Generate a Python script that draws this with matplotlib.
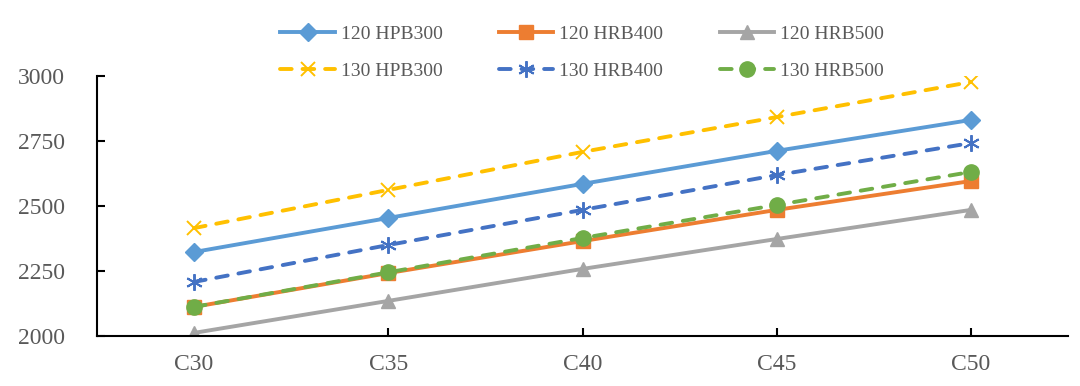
import matplotlib
matplotlib.use("Agg")
import matplotlib.pyplot as plt

categories = ["C30", "C35", "C40", "C45", "C50"]
s120_hpb300 = [2323, 2454, 2585, 2712, 2831]
s120_hrb400 = [2112, 2242, 2365, 2485, 2596]
s120_hrb500 = [2012, 2135, 2258, 2373, 2485]
s130_hpb300 = [2415, 2562, 2708, 2842, 2977]
s130_hrb400 = [2208, 2350, 2485, 2619, 2742]
s130_hrb500 = [2112, 2245, 2377, 2504, 2631]
yticks = [2000, 2250, 2500, 2750, 3000]

plt.rcParams['font.family'] = ['Liberation Serif', 'DejaVu Serif']

fig = plt.figure(figsize=(10.8, 3.86), dpi=100)
ax = fig.add_axes([97/1080, 1-336/386, (1068-97)/1080, (336-76)/386])

x = list(range(len(categories)))
lw = 2.8
dash = (0, (3.0, 2.8))

ax.plot(x, s120_hpb300, color="#5B9BD5", lw=lw, marker="D", ms=9, label="120 HPB300")
ax.plot(x, s120_hrb400, color="#ED7D31", lw=lw, marker="s", ms=9.5, label="120 HRB400")
ax.plot(x, s120_hrb500, color="#A5A5A5", lw=lw, marker="^", ms=10.5, label="120 HRB500")
ax.plot(x, s130_hpb300, color="#FFC000", lw=lw, ls=dash, dash_capstyle='round',
        marker="x", ms=10.5, mew=1.4, label="130 HPB300")
ax.plot(x, s130_hrb400, color="#4472C4", lw=lw, ls=dash, dash_capstyle='round',
        marker=(6, 2, 0), ms=12, mew=1.4, label="130 HRB400")
ax.plot(x, s130_hrb500, color="#70AD47", lw=lw, ls=dash, dash_capstyle='round',
        marker="o", ms=11, label="130 HRB500")

ax.set_xlim(-0.5, len(categories) - 0.5)
ax.set_ylim(2000, 3000)
ax.set_xticks(x)
ax.set_xticklabels(categories)
ax.set_yticks(yticks)

for s in ["top", "right"]:
    ax.spines[s].set_visible(False)
for s in ["left", "bottom"]:
    ax.spines[s].set_color("black")
    ax.spines[s].set_linewidth(1.5)

ax.tick_params(axis="y", direction="in", length=6, width=1.5, pad=23,
               labelsize=17, labelcolor="#595959")
ax.tick_params(axis="x", direction="in", length=6, width=1.5, pad=13,
               labelsize=17, labelcolor="#595959")

handles, labels = ax.get_legend_handles_labels()
order = [0, 3, 1, 4, 2, 5]
leg = fig.legend([handles[i] for i in order], [labels[i] for i in order],
                 loc="upper center", bbox_to_anchor=(582/1080, 0.98), ncol=3,
                 frameon=False, fontsize=14, handlelength=2.8,
                 columnspacing=2.9, handletextpad=0.3, labelspacing=1.0,
                 labelcolor="#595959")

fig.savefig("out.png", dpi=100)
